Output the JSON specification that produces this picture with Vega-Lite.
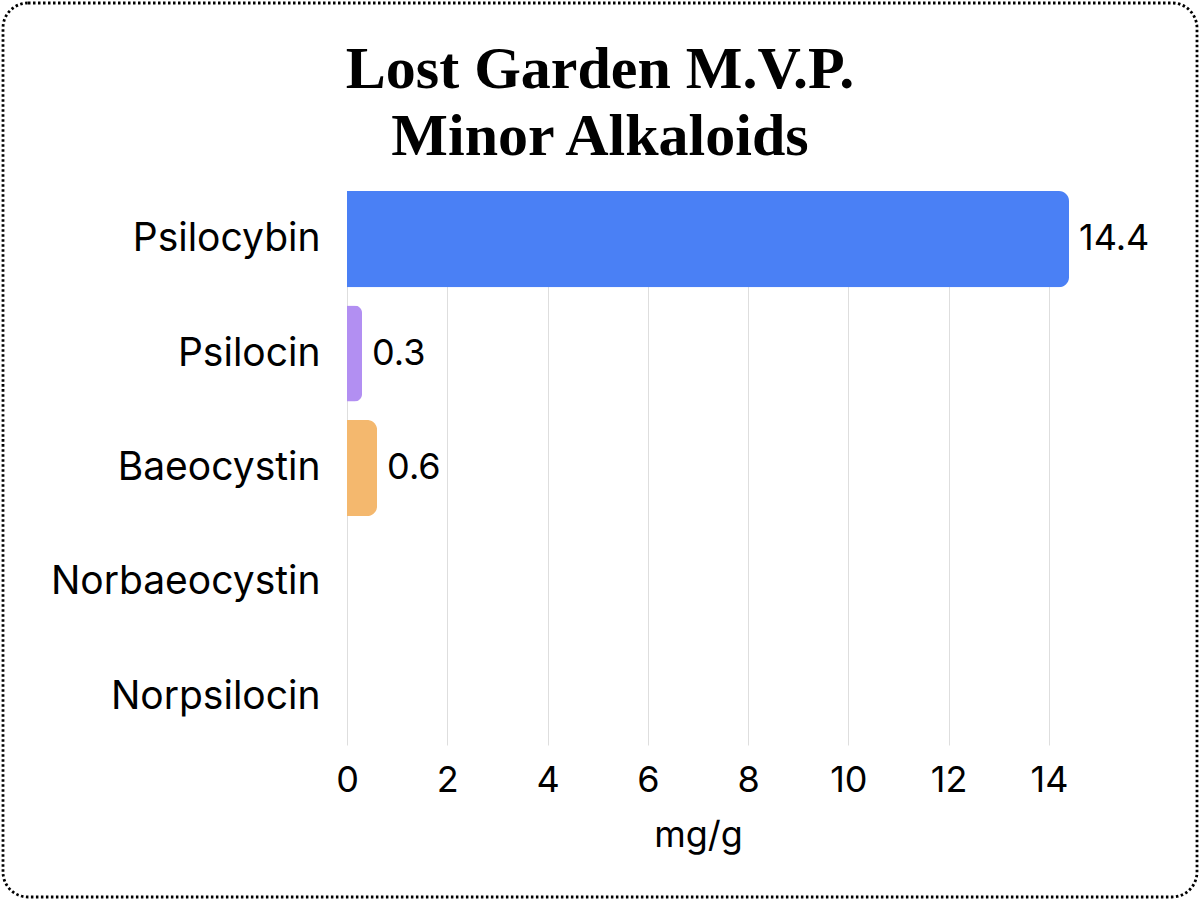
{
  "$schema": "https://vega.github.io/schema/vega-lite/v6.json",
  "width": 1194,
  "height": 894,
  "autosize": {"type": "none"},
  "padding": 3,
  "background": "white",
  "title": {
    "text": ["Lost Garden M.V.P.", "Minor Alkaloids"],
    "font": "Liberation Serif",
    "fontSize": 60,
    "fontWeight": "bold",
    "color": "black",
    "anchor": "middle",
    "frame": "group",
    "baseline": "top",
    "offset": -165,
    "lineHeight": 67
  },
  "config": {
    "view": {"stroke": "black", "strokeWidth": 2.8, "strokeDash": [2.5, 2.5], "cornerRadius": 25},
    "font": "Inter"
  },
  "data": {
    "values": [
      {"compound": "Psilocybin", "mg": 14.4},
      {"compound": "Psilocin", "mg": 0.3},
      {"compound": "Baeocystin", "mg": 0.6},
      {"compound": "Norbaeocystin", "mg": 0},
      {"compound": "Norpsilocin", "mg": 0}
    ]
  },
  "encoding": {
    "y": {
      "field": "compound",
      "type": "nominal",
      "sort": null,
      "scale": {"range": [188, 742], "paddingInner": 0.16, "paddingOuter": 0},
      "axis": {
        "orient": "left",
        "offset": -344,
        "domain": false,
        "ticks": false,
        "grid": false,
        "title": null,
        "labelFontSize": 39,
        "labelPadding": 27,
        "labelLimit": 500,
        "labelColor": "black"
      }
    }
  },
  "layer": [
    {
      "mark": {"type": "bar", "cornerRadiusEnd": 10},
      "encoding": {
        "x": {
          "field": "mg",
          "type": "quantitative",
          "scale": {"domain": [0, 14.4], "range": [344, 1066], "nice": false},
          "axis": {
            "orient": "top",
            "values": [0, 2, 4, 6, 8, 10, 12, 14],
            "domain": false,
            "ticks": false,
            "labels": false,
            "grid": true,
            "gridColor": "#dedede",
            "title": null
          }
        },
        "color": {
          "field": "compound",
          "type": "nominal",
          "scale": {
            "domain": ["Psilocybin", "Psilocin", "Baeocystin", "Norbaeocystin", "Norpsilocin"],
            "range": ["#4a80f5", "#b28ff2", "#f4b86e", "#7fd3a8", "#f08a8a"]
          },
          "legend": null
        }
      }
    },
    {
      "transform": [{"filter": "datum.mg > 0"}],
      "mark": {"type": "text", "align": "left", "baseline": "middle", "dx": 10, "fontSize": 36, "color": "black"},
      "encoding": {
        "x": {
          "field": "mg",
          "type": "quantitative",
          "axis": {
            "orient": "bottom",
            "offset": -152,
            "values": [0, 2, 4, 6, 8, 10, 12, 14],
            "domain": false,
            "ticks": false,
            "grid": false,
            "labelFlush": false,
            "labelFontSize": 36,
            "labelPadding": 18,
            "labelColor": "black",
            "title": "mg/g",
            "titleX": 695,
            "titleFontSize": 36,
            "titleFontWeight": "normal",
            "titleColor": "black",
            "titlePadding": 20
          }
        },
        "text": {"field": "mg", "type": "quantitative", "format": ".1f"}
      }
    }
  ],
  "resolve": {"axis": {"x": "independent"}}
}
